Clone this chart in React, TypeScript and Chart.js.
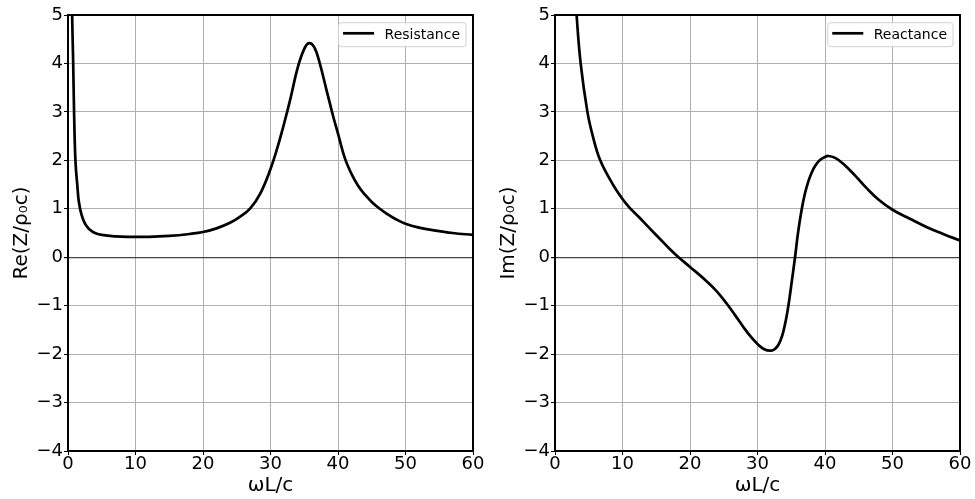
import React, { useEffect, useRef } from 'react';
import { Chart, registerables } from 'chart.js';

Chart.register(...registerables);

// ---- Data ----
const resistanceX = [0.5, 0.62, 0.77, 0.9, 1.1, 1.4, 1.6, 2.0, 2.5, 3.0, 3.5, 4.0, 5.0, 7.0, 9.0, 12, 15, 18, 20, 22, 24, 25.5, 27, 28.5, 30, 31, 32, 33, 34, 35, 35.7, 36.5, 37.3, 38.3, 39.3, 40, 41, 42, 43, 44, 45, 46, 47.2, 48.5, 50, 52, 54, 57, 60];
const resistanceY = [7, 5, 4, 3, 2, 1.45, 1.15, 0.88, 0.7, 0.6, 0.54, 0.5, 0.46, 0.43, 0.42, 0.42, 0.44, 0.48, 0.52, 0.595, 0.71, 0.84, 1.01, 1.32, 1.82, 2.25, 2.75, 3.3, 3.9, 4.3, 4.42, 4.33, 4.0, 3.45, 2.9, 2.55, 2.05, 1.72, 1.47, 1.29, 1.14, 1.02, 0.9, 0.79, 0.69, 0.61, 0.56, 0.5, 0.46];

const reactanceX = [3.0, 3.2, 3.8, 4.8, 5.6, 6.7, 8.5, 10, 11, 12.5, 14, 15.6, 17, 18.3, 20, 22.5, 24, 25.4, 26.7, 27.9, 29, 30, 31, 31.9, 32.5, 33.0, 33.4, 33.8, 34.2, 34.6, 35.06, 35.56, 36.0, 36.5, 37.0, 37.5, 38.0, 38.6, 39.3, 40.0, 40.5, 41.5, 42.7, 44.5, 46.2, 48, 50, 52.5, 55.1, 57.5, 60];
const reactanceY = [5.5, 5, 4, 3, 2.5, 2, 1.52, 1.2, 1.03, 0.82, 0.6, 0.37, 0.17, 0, -0.2, -0.5, -0.71, -0.95, -1.2, -1.44, -1.64, -1.79, -1.9, -1.93, -1.9, -1.83, -1.72, -1.55, -1.3, -0.98, -0.52, 0, 0.5, 0.95, 1.3, 1.55, 1.74, 1.9, 2.01, 2.07, 2.09, 2.05, 1.93, 1.68, 1.42, 1.18, 0.98, 0.8, 0.62, 0.48, 0.345];

const xTickValues = [0, 10, 20, 30, 40, 50, 60];
const yTickValues = [-4, -3, -2, -1, 0, 1, 2, 3, 4, 5];

const FONT = "'DejaVu Sans', sans-serif";

const fmt = (v: number) => (v < 0 ? '\u2212' + Math.abs(v) : String(v));

const framePlugin = {
  id: 'frame',
  beforeDatasetsDraw(chart: any) {
    const { ctx, chartArea } = chart;
    const { left, top, right, bottom } = chartArea;
    ctx.save();
    ctx.strokeStyle = '#000';
    ctx.lineWidth = 2;
    ctx.strokeRect(left, top, right - left, bottom - top);
    ctx.restore();
  },
};

const legendPlugin = {
  id: 'boxLegend',
  afterDraw(chart: any) {
    const { ctx, chartArea } = chart;
    const label = chart.data.datasets[0].label as string;
    ctx.save();
    ctx.font = `14px ${FONT}`;
    const tw = ctx.measureText(label).width;
    const w = 4.5 + 31 + 10.5 + tw + 6;
    const h = 24;
    const x = chartArea.right - 7 - w;
    const y = chartArea.top + 7.7;
    ctx.beginPath();
    (ctx as any).roundRect(x, y, w, h, 3);
    ctx.fillStyle = 'rgba(255,255,255,0.85)';
    ctx.fill();
    ctx.strokeStyle = '#d0d0d0';
    ctx.lineWidth = 1;
    ctx.stroke();
    ctx.beginPath();
    ctx.moveTo(x + 4.5, y + 10.6);
    ctx.lineTo(x + 35.5, y + 10.6);
    ctx.strokeStyle = '#000';
    ctx.lineWidth = 2.7;
    ctx.stroke();
    ctx.fillStyle = '#000';
    ctx.textBaseline = 'alphabetic';
    ctx.textAlign = 'left';
    ctx.fillText(label, x + 46, y + 16.6);
    ctx.restore();
  },
};

function Panel({ xs, ys, label, yTitle, left }: { xs: number[]; ys: number[]; label: string; yTitle: string; left: number }) {
  const ref = useRef<HTMLCanvasElement>(null);
  useEffect(() => {
    if (!ref.current) return;
    const points = xs.map((x, i) => ({ x, y: ys[i] }));
    const chart = new Chart(ref.current, {
      type: 'line',
      data: {
        datasets: [
          {
            label,
            data: points,
            borderColor: '#000',
            borderWidth: 2.7,
            pointRadius: 0,
            fill: false,
            tension: 0.4,
          },
        ],
      },
      options: {
        animation: false,
        responsive: false,
        devicePixelRatio: 1,
        layout: { padding: { top: 15, right: 14, left: 0, bottom: 0 } },
        plugins: { legend: { display: false }, tooltip: { enabled: false } },
        scales: {
          x: {
            type: 'linear',
            min: 0,
            max: 60,
            afterBuildTicks: (s: any) => {
              s.ticks = xTickValues.map((v) => ({ value: v }));
            },
            ticks: {
              font: { family: FONT, size: 18 },
              color: '#000',
              padding: -1,
              maxRotation: 0,
              autoSkip: false,
              callback: (v: any) => fmt(Number(v)),
            },
            grid: { color: '#b0b0b0', lineWidth: 1, tickLength: 4, tickColor: '#000' },
            border: { display: false },
            title: { display: true, text: 'ωL/c', font: { family: FONT, size: 20 }, color: '#000', padding: { top: 0, bottom: 1.5 } },
            afterFit: (s: any) => {
              s.height = 48;
            },
          },
          y: {
            type: 'linear',
            min: -4,
            max: 5,
            afterBuildTicks: (s: any) => {
              s.ticks = yTickValues.map((v) => ({ value: v }));
            },
            ticks: {
              font: { family: FONT, size: 18 },
              color: '#000',
              padding: 1,
              autoSkip: false,
              callback: (v: any) => fmt(Number(v)),
            },
            grid: {
              color: (c: any) => (c.tick && c.tick.value === 0 ? '#444' : '#b0b0b0'),
              lineWidth: (c: any) => (c.tick && c.tick.value === 0 ? 1.2 : 1),
              tickLength: 4,
              tickColor: '#000',
            },
            border: { display: false },
            title: { display: true, text: yTitle, font: { family: FONT, size: 20 }, color: '#000', padding: { top: 10, bottom: 0 } },
            afterFit: (s: any) => {
              s.width = 68;
            },
          },
        },
      } as any,
      plugins: [framePlugin, legendPlugin],
    });
    return () => chart.destroy();
  }, [xs, ys, label, yTitle]);
  return (
    <canvas
      ref={ref}
      width={487}
      height={499}
      style={{ position: 'absolute', left, top: 0, width: 487, height: 499 }}
    />
  );
}

export default function App() {
  return (
    <div style={{ position: 'fixed', left: 0, top: 0, width: 975, height: 499, background: '#fff' }}>
      <Panel xs={resistanceX} ys={resistanceY} label="Resistance" yTitle="Re(Z/ρ₀c)" left={0} />
      <Panel xs={reactanceX} ys={reactanceY} label="Reactance" yTitle="Im(Z/ρ₀c)" left={487} />
    </div>
  );
}
